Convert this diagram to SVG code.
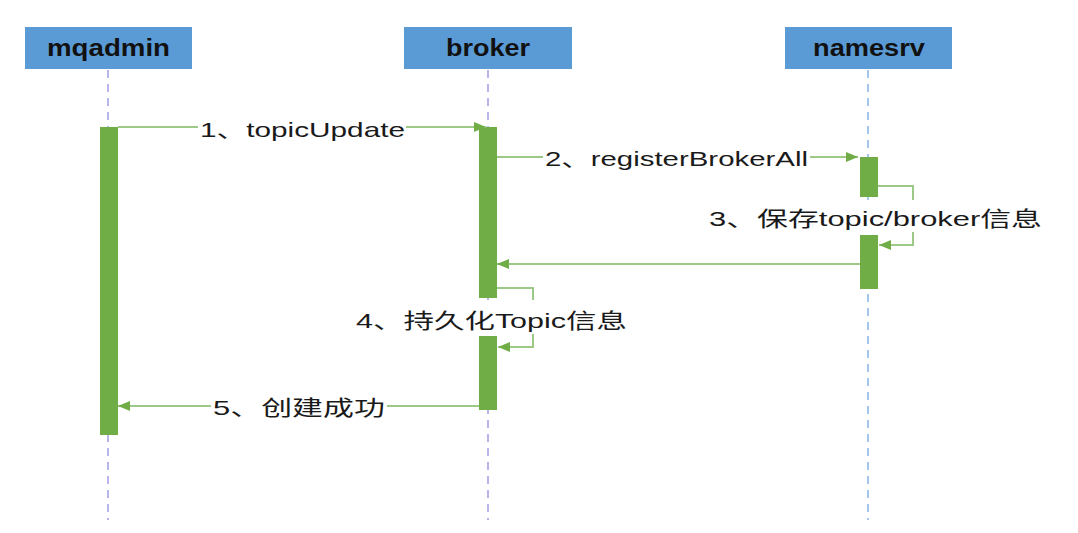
<svg xmlns="http://www.w3.org/2000/svg" width="1078" height="533" viewBox="0 0 1078 533">
<style>
.hdr{fill:#5B9BD5}
.hdrtxt{font-family:"Liberation Sans","Noto Sans",sans-serif;font-weight:bold;font-size:23px;fill:#111}
.life{stroke-width:2;stroke-dasharray:8 6;fill:none}
.bar{fill:#70AD47}
.msg{stroke:#9CC985;stroke-width:2;fill:none}
.lbl{font-family:"Liberation Sans","Noto Sans CJK SC",sans-serif;font-size:21px;fill:#1a1a1a}
.bg{fill:#fff}
</style>
<defs>
<marker id="arr" viewBox="0 0 12 10" refX="12" refY="5" markerWidth="12" markerHeight="10" markerUnits="userSpaceOnUse" orient="auto">
<path d="M0,0 L12,5 L0,10 z" fill="#70AD47"/>
</marker>
</defs>
<rect width="1078" height="533" fill="#fff"/>
<g id="mqadmin">
<rect class="hdr" x="25" y="27" width="167" height="42"/>
<text class="hdrtxt" x="47" y="56" textLength="123" lengthAdjust="spacingAndGlyphs">mqadmin</text>
<line class="life" x1="108" y1="70" x2="108" y2="520" stroke="#B9B6EE"/>
<rect class="bar" x="100" y="127" width="18" height="308"/>
</g>
<g id="broker">
<rect class="hdr" x="404" y="27" width="168" height="42"/>
<text class="hdrtxt" x="446" y="56" textLength="84" lengthAdjust="spacingAndGlyphs">broker</text>
<line class="life" x1="488" y1="70" x2="488" y2="520" stroke="#B9B6EE"/>
<rect class="bar" x="479" y="127" width="18" height="171"/>
<rect class="bar" x="479" y="336" width="18" height="74"/>
</g>
<g id="namesrv">
<rect class="hdr" x="785" y="27" width="167" height="42"/>
<text class="hdrtxt" x="813" y="56" textLength="112" lengthAdjust="spacingAndGlyphs">namesrv</text>
<line class="life" x1="868" y1="70" x2="868" y2="520" stroke="#A3C6EC"/>
<rect class="bar" x="860" y="157" width="18" height="40"/>
<rect class="bar" x="860" y="235" width="18" height="54"/>
</g>
<g id="connectors">
<line class="msg" x1="118" y1="127" x2="486" y2="127" marker-end="url(#arr)"/>
<line class="msg" x1="497" y1="157" x2="858" y2="157" marker-end="url(#arr)"/>
<path class="msg" d="M878,186 H913 V245 H879" marker-end="url(#arr)"/>
<line class="msg" x1="860" y1="264" x2="497" y2="264" marker-end="url(#arr)"/>
<path class="msg" d="M497,288 H533 V347 H498" marker-end="url(#arr)"/>
<line class="msg" x1="479" y1="406" x2="118" y2="406" marker-end="url(#arr)"/>
</g>
<g id="labels">
<rect class="bg" x="198" y="116" width="208" height="24"/>
<text class="lbl" x="200" y="137" textLength="205" lengthAdjust="spacingAndGlyphs">1、topicUpdate</text>
<rect class="bg" x="543" y="146" width="267" height="24"/>
<text class="lbl" x="545" y="166" textLength="263" lengthAdjust="spacingAndGlyphs">2、registerBrokerAll</text>
<rect class="bg" x="707" y="200" width="337" height="32"/>
<text class="lbl" x="709" y="226" textLength="333" lengthAdjust="spacingAndGlyphs">3、保存topic/broker信息</text>
<rect class="bg" x="354" y="300" width="276" height="34"/>
<text class="lbl" x="356" y="328" textLength="271" lengthAdjust="spacingAndGlyphs">4、持久化Topic信息</text>
<rect class="bg" x="211" y="393" width="176" height="26"/>
<text class="lbl" x="213" y="415" textLength="172" lengthAdjust="spacingAndGlyphs">5、创建成功</text>
</g>
</svg>
